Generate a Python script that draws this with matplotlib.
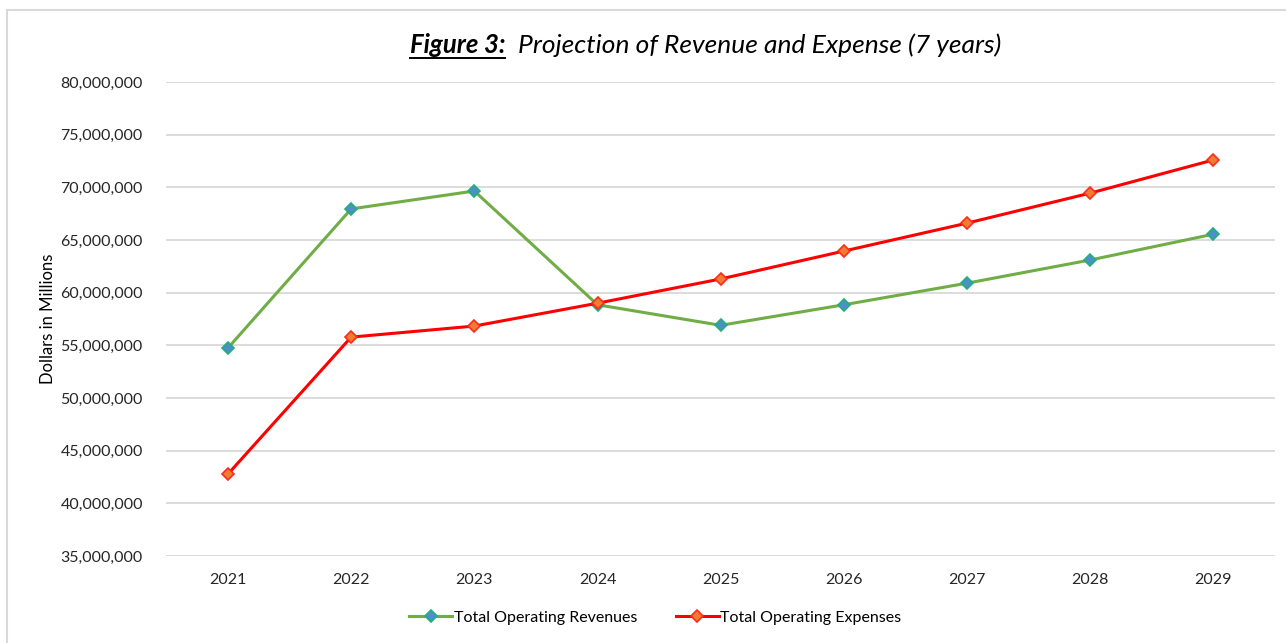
import numpy as np
import matplotlib.pyplot as plt
from matplotlib.lines import Line2D
from matplotlib.patches import Rectangle
from matplotlib.ticker import FuncFormatter

plt.rcParams['font.family'] = ['Lato', 'DejaVu Sans']

years = ['2021', '2022', '2023', '2024', '2025', '2026', '2027', '2028', '2029']
revenues = [54750000, 67950000, 69650000, 58850000, 56900000, 58850000, 60900000, 63100000, 65550000]
expenses = [42780000, 55780000, 56830000, 59000000, 61300000, 63950000, 66600000, 69450000, 72600000]

fig = plt.figure(figsize=(12.86, 6.43), dpi=100)
ax = fig.add_axes([0.1294, 0.1353, 0.8620, 0.7372])

x = np.arange(len(years))
ax.plot(x, revenues, color='#70ad47', lw=2.2, marker='D', ms=6,
        markerfacecolor='#4e8fc9', markeredgecolor='#22b07a', markeredgewidth=1.2,
        label='Total Operating Revenues', zorder=3)
ax.plot(x, expenses, color='#ff0000', lw=2.2, marker='D', ms=6,
        markerfacecolor='#ed7d31', markeredgecolor='#ff2a1a', markeredgewidth=1.2,
        label='Total Operating Expenses', zorder=3)

ax.set_xlim(-0.5, len(years) - 0.5)
ax.set_ylim(35000000, 80000000)
ax.set_yticks(np.arange(35000000, 80000001, 5000000))
ax.yaxis.set_major_formatter(FuncFormatter(lambda v, p: f'{int(v):,}'))
ax.set_xticks(x)
ax.set_xticklabels(years)
ax.grid(axis='y', color='#d9d9d9', lw=1.3)
ax.set_axisbelow(True)
for s in ax.spines.values():
    s.set_visible(False)
ax.tick_params(length=0, labelsize=11.5, colors='#262626')
ax.tick_params(axis='y', pad=17)
ax.tick_params(axis='x', pad=12)
ax.set_ylabel('Dollars in Millions', fontsize=12, color='#000000', labelpad=3)

leg = ax.legend(loc='upper center', bbox_to_anchor=(0.441, -0.085), ncol=2, frameon=False,
                fontsize=11.5, handlelength=2.7, columnspacing=2.4, handletextpad=0.1)

# figure border
fig.add_artist(Rectangle((7 / 1286, -0.01), 1.02, 1 - 10 / 643 + 0.01, transform=fig.transFigure,
                         fill=False, edgecolor='#d9d9d9', lw=1.5))

# title: bold underlined "Figure 3:" then italic text
t1 = fig.text(410 / 1286, 1 - 45 / 643, 'Figure 3:', fontsize=18.5, fontweight='bold',
              fontstyle='italic', va='center', ha='left')
fig.canvas.draw()
bb = t1.get_window_extent()
t2 = fig.text(bb.x1 / 1286 + 0.01, 1 - 45 / 643, 'Projection of Revenue and Expense (7 years)',
              fontsize=19, fontstyle='italic', va='center', ha='left')
uy = (bb.y0 - 1) / 643
fig.add_artist(Line2D([bb.x0 / 1286, bb.x1 / 1286], [uy, uy], transform=fig.transFigure,
                      color='black', lw=1.4))

fig.savefig('out.png', dpi=100)
